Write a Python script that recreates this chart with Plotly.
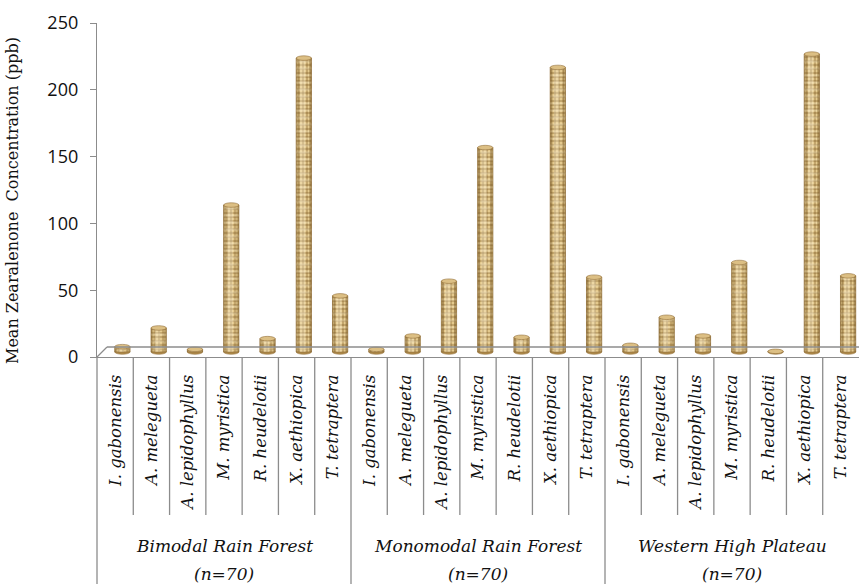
import numpy as np
import plotly.graph_objects as go

# ---- data -------------------------------------------------------------
regions = ["Bimodal Rain Forest", "Monomodal Rain Forest", "Western High Plateau"]
region_n = ["(n=70)", "(n=70)", "(n=70)"]
species = ["I. gabonensis", "A. melegueta", "A. lepidophyllus", "M. myristica",
           "R. heudelotii", "X. aethiopica", "T. tetraptera"]
bimodal = [4, 18, 2, 110, 10, 220, 42]
monomodal = [2, 12, 53, 153, 11, 213, 56]
western = [5, 26, 12, 67, 0.5, 223, 57]
y_ticks = [0, 50, 100, 150, 200, 250]

# ---- geometry of the page (pixels) --------------------------------------
W, H = 859, 584
LEFT, TOP, AXIS_Y = 97, 23, 357          # plot area left/top and the 0 line
PLOT_W, PLOT_H = W - LEFT, AXIS_Y - TOP
DEPTH_PX = 10                             # depth of the pseudo-3D floor
SUB_DIV_BOTTOM = 515                      # lower end of species dividers
Y_MAX = 250.0
PX_PER_UNIT = PLOT_H / Y_MAX

def py(px):
    """pixel row -> paper y"""
    return (AXIS_Y - px) / PLOT_H

def px_x(px):
    """pixel column -> paper x"""
    return (px - LEFT) / PLOT_W

series = [bimodal, monomodal, western]
values = [v for s in series for v in s]
labels = species * len(regions)
n_cat = len(values)
xpos = np.arange(n_cat)
base = (DEPTH_PX / 2) / PX_PER_UNIT       # cylinders stand mid-depth on the floor

BAR_W = 0.42
BAR_OFF = -0.01
cap_h = 1.7                               # half-height of the elliptic caps (data units)

fig = go.Figure()

# main cylinder bodies with a woven texture
fig.add_trace(go.Bar(
    x=xpos, y=values, base=[base] * n_cat,
    width=BAR_W, offset=BAR_OFF,
    marker=dict(
        color="#c9a35c",
        line=dict(color="#94713a", width=0.8),
        pattern=dict(shape="+", fgcolor="#7d5a26", bgcolor="#e4c98d",
                     size=4, solidity=0.3, fillmode="replace"),
    ),
    hovertext=labels, showlegend=False,
))
# second weave layer: short horizontal strokes
fig.add_trace(go.Bar(
    x=xpos, y=values, base=[base] * n_cat,
    width=BAR_W, offset=BAR_OFF,
    marker=dict(
        color="rgba(0,0,0,0)",
        line=dict(width=0),
        pattern=dict(shape="-", fgcolor="rgba(250,236,196,0.75)", bgcolor="rgba(0,0,0,0)",
                     size=7, solidity=0.3, fillmode="overlay"),
    ),
    hoverinfo="skip", showlegend=False,
))
# soft highlight strip giving the round look
fig.add_trace(go.Bar(
    x=xpos, y=values, base=[base] * n_cat,
    width=BAR_W * 0.35, offset=BAR_OFF + BAR_W * 0.25,
    marker=dict(color="rgba(255,246,220,0.3)", line=dict(width=0)),
    hoverinfo="skip", showlegend=False,
))
# darker flanks
for off in (BAR_OFF, BAR_OFF + BAR_W * 0.84):
    fig.add_trace(go.Bar(
        x=xpos, y=values, base=[base] * n_cat,
        width=BAR_W * 0.16, offset=off,
        marker=dict(color="rgba(110,78,30,0.3)", line=dict(width=0)),
        hoverinfo="skip", showlegend=False,
    ))

shapes = []
for xi, v in zip(xpos, values):
    x0, x1 = xi + BAR_OFF, xi + BAR_OFF + BAR_W
    # rounded bottom
    shapes.append(dict(type="circle", xref="x", yref="y", layer="below",
                       x0=x0, x1=x1, y0=base - cap_h, y1=base + cap_h,
                       fillcolor="#b08b4a", line=dict(color="#94713a", width=0.6)))
    # top cap
    shapes.append(dict(type="circle", xref="x", yref="y", layer="above",
                       x0=x0, x1=x1, y0=base + v - cap_h, y1=base + v + cap_h,
                       fillcolor="#dcbf84", line=dict(color="#94713a", width=0.6)))

grey = "#8c8c8c"
# pseudo-3D floor
shapes.append(dict(type="line", xref="paper", yref="paper",
                   x0=0, y0=0, x1=px_x(LEFT + DEPTH_PX), y1=py(AXIS_Y - DEPTH_PX),
                   line=dict(color=grey, width=1.3)))
shapes.append(dict(type="line", xref="paper", yref="paper",
                   x0=px_x(LEFT + DEPTH_PX), y0=py(AXIS_Y - DEPTH_PX), x1=1, y1=py(AXIS_Y - DEPTH_PX),
                   line=dict(color=grey, width=1.3)))

# dividers of the category table under the axis
per = len(species)
for b in range(n_cat - 1):
    xb = (b + 1) / n_cat
    is_group = (b + 1) % per == 0
    shapes.append(dict(type="line", xref="paper", yref="paper",
                       x0=xb, x1=xb, y0=0, y1=py(H if is_group else SUB_DIV_BOTTOM),
                       line=dict(color=grey, width=1.3)))
shapes.append(dict(type="line", xref="paper", yref="paper",
                   x0=0, x1=0, y0=0, y1=py(H), line=dict(color=grey, width=1.3)))

serif = "DejaVu Serif"
text_col = "#111111"
annotations = []
for g, (name, n) in enumerate(zip(regions, region_n)):
    xc = g * per + (per - 1) / 2
    annotations.append(dict(text=name, x=xc, xref="x", y=py(546), yref="paper",
                            showarrow=False, xanchor="center", yanchor="middle",
                            font=dict(family=serif, size=17, color=text_col, style="italic")))
    annotations.append(dict(text=n, x=xc, xref="x", y=py(574), yref="paper",
                            showarrow=False, xanchor="center", yanchor="middle",
                            font=dict(family=serif, size=17, color=text_col, style="italic")))

annotations.append(dict(text="Mean Zearalenone  Concentration (ppb)",
                        x=px_x(12), xref="paper", y=py(201), yref="paper",
                        textangle=-90, showarrow=False, xanchor="center", yanchor="middle",
                        font=dict(family=serif, size=16, color=text_col)))

fig.update_layout(
    width=W, height=H,
    margin=dict(l=LEFT, r=0, t=TOP, b=H - AXIS_Y, pad=0),
    paper_bgcolor="white", plot_bgcolor="white",
    barmode="overlay",
    shapes=shapes, annotations=annotations,
    xaxis=dict(
        range=[-0.5, n_cat - 0.5], tickmode="array", tickvals=xpos, ticktext=labels,
        tickangle=-90, showline=True, linecolor=grey, linewidth=1.3,
        ticks="", showgrid=False, zeroline=False, ticklabelstandoff=10,
        tickfont=dict(family=serif, size=16.5, color=text_col, style="italic"),
    ),
    yaxis=dict(
        range=[0, Y_MAX], tickmode="array", tickvals=y_ticks,
        showline=True, linecolor=grey, linewidth=1.3,
        ticks="outside", ticklen=6, tickcolor=grey, tickwidth=1.3,
        showgrid=False, zeroline=False, ticklabelstandoff=8,
        tickfont=dict(family="Open Sans", size=18, color=text_col),
    ),
)

fig.write_html("out.html")
